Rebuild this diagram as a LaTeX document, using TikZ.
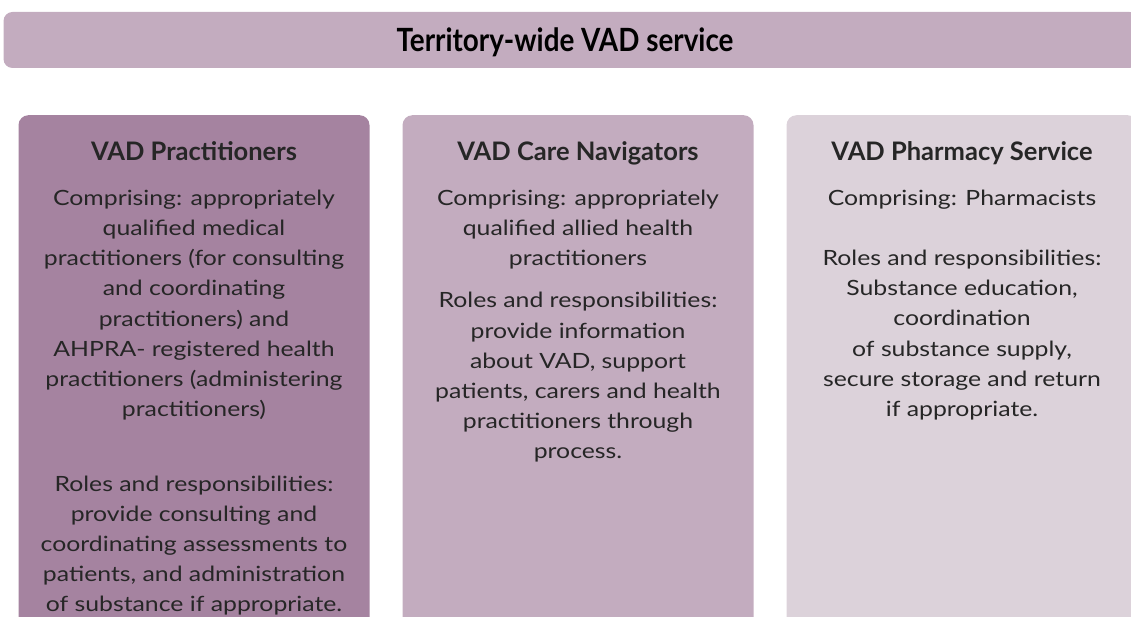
\documentclass[tikz,border=0pt]{standalone}
\usepackage{fontspec}
\usepackage{graphicx}
\setmainfont{Lato}
\newfontfamily\widefont{Lato}[FakeStretch=1.18]
\usetikzlibrary{positioning}
\definecolor{cdark}{HTML}{A583A0}
\definecolor{cmid}{HTML}{C3ACBF}
\definecolor{clight}{HTML}{DCD2DA}
\definecolor{ctext}{HTML}{262626}
\tikzset{
  every picture/.style={x=1pt, y=-1pt},
  banner/.style={fill=cmid, rounded corners=9pt, minimum width=1135pt, minimum height=56pt, inner sep=0pt},
  panel/.style={fill=#1, rounded corners=10pt, minimum width=351pt, minimum height=540pt, anchor=north, inner sep=0pt},
  head/.style={font=\fontsize{25.5}{30}\selectfont\bfseries, text=ctext, anchor=base},
  body/.style={font=\widefont\fontsize{21}{30.1}\selectfont, text=ctext, align=center, anchor=north, inner sep=0pt},
}

\begin{document}
\begin{tikzpicture}
  \useasboundingbox (0,0) rectangle (1131,617);
  \clip (0,0) rectangle (1131,617);
  % top bar
  \node[banner] (bar) at (571,40) {};
  \node[font=\fontsize{32}{32}\selectfont\bfseries, text=black, anchor=base] (bartxt) at (565,52)
    {\scalebox{0.87}[1]{Territory-wide VAD service}};
  % three panels
  \foreach \i/\x/\c/\t in {1/194/cdark/VAD Practitioners, 2/578/cmid/VAD Care Navigators, 3/962/clight/VAD Pharmacy Service} {
    \node[panel=\c] (p\i) at (\x,115) {};
    \node[head] (h\i) at (\x,161) {\t};
  }
  \node[body] (b1) at (194,190) {Comprising: appropriately\\ qualified medical\\ practitioners (for consulting\\
    and coordinating\\ practitioners) and\\ AHPRA- registered health\\ practitioners (administering\\ practitioners)\\[45pt]
    Roles and responsibilities:\\ provide consulting and\\ coordinating assessments to\\ patients, and administration\\ of substance if appropriate.};
  \node[body] (b2) at (578,190) {Comprising: appropriately\\ qualified allied health\\ practitioners\\[12pt]
    Roles and responsibilities:\\ provide information\\ about VAD, support\\ patients, carers and health\\ practitioners through\\ process.};
  \node[body] (b3) at (962,190) {Comprising: Pharmacists\\[30pt]
    Roles and responsibilities:\\ Substance education,\\ coordination\\ of substance supply,\\ secure storage and return\\ if appropriate.};
\end{tikzpicture}
\end{document}
